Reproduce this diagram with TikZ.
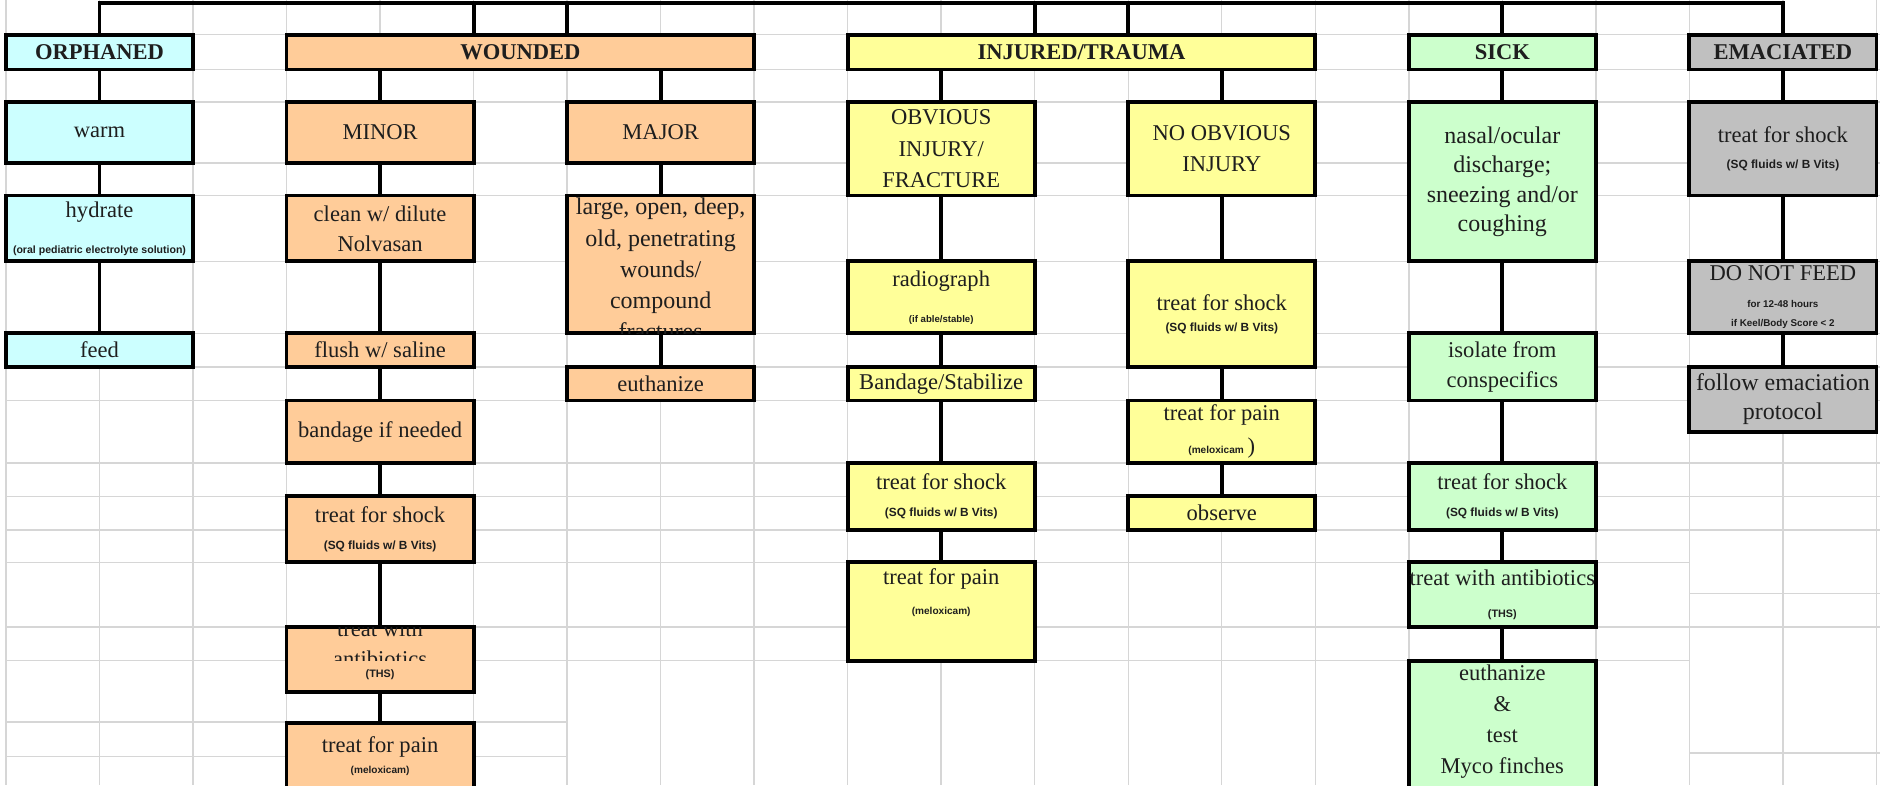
\documentclass[tikz,border=0pt]{standalone}
\usepackage{fontspec}
\setmainfont{Liberation Serif}
\newfontfamily\subfont{Liberation Sans}
\definecolor{cyanF}{HTML}{CCFFFF}
\definecolor{peachF}{HTML}{FFCC99}
\definecolor{yellowF}{HTML}{FFFF99}
\definecolor{greenF}{HTML}{CCFFCC}
\definecolor{grayF}{HTML}{C0C0C0}
\definecolor{gridC}{HTML}{D6D6D6}
\definecolor{txt}{HTML}{1E1E1E}
\newcommand\mf{\fontsize{9.4pt}{12.6pt}\selectfont}
\newcommand\bigmf{\fontsize{10pt}{12.3pt}\selectfont}
\newcommand\subt[2][4.5]{{\subfont\bfseries\fontsize{#1pt}{#1pt}\selectfont #2}}
\newcommand\cellbox[7]{\node[#6, minimum width={(#4-#2)*0.5pt}, minimum height={(#5-#3)*0.5pt}] (#1) at ({(#2+#4)/2},{(#3+#5)/2}) {#7};}
\tikzset{
  cell/.style={draw=black, line width=1.6pt, inner sep=0pt, align=center, font=\mf, text=txt},
  hdr/.style={cell, font={\mf\bfseries}},
  cy/.style={fill=cyanF}, pe/.style={fill=peachF}, ye/.style={fill=yellowF},
  gr/.style={fill=greenF}, gy/.style={fill=grayF},
  conn/.style={line width=1.6pt, draw=black},
  gridline/.style={draw=gridC, line width=0.6pt},
  txtnode/.style={inner sep=0pt, align=center, font=\mf, text=txt}
}
\begin{document}
\begin{tikzpicture}[x=0.5pt,y=-0.5pt]
\useasboundingbox (0,0) rectangle (1568,655);
\clip (0,0) rectangle (1568,655);
\fill[white] (0,0) rectangle (1568,655);
% spreadsheet grid
\foreach \k in {0,...,20} \draw[gridline] ({5+78*\k},0) -- ({5+78*\k},655);
\foreach \yy in {29,58,85,136,163,218,278,306,334,386,414,442,523} \draw[gridline] (5,\yy) -- (1568,\yy);
\foreach \yy in {469,551} \draw[gridline] (5,\yy) -- (1409,\yy);
\foreach \yy in {495,628} \draw[gridline] (1409,\yy) -- (1568,\yy);
\foreach \yy in {602,631} \draw[gridline] (5,\yy) -- (473,\yy);

% headers
\cellbox{orph}{5}{29}{161}{58}{hdr,cy}{ORPHANED}
\cellbox{wounded}{239}{29}{629}{58}{hdr,pe}{WOUNDED}
\cellbox{injured}{707}{29}{1097}{58}{hdr,ye}{INJURED/TRAUMA}
\cellbox{sick}{1175}{29}{1331}{58}{hdr,gr}{SICK}
\cellbox{emac}{1409}{29}{1565}{58}{hdr,gy}{EMACIATED}

% orphaned
\cellbox{warm}{5}{85}{161}{136}{cell,cy}{warm}
\cellbox{hydrate}{5}{163}{161}{218}{cell,cy}{hydrate\\[2.5pt]\subt[4.4]{(oral pediatric electrolyte solution)}}
\cellbox{feed}{5}{278}{161}{306}{cell,cy}{feed}

% wounded - minor
\cellbox{minor}{239}{85}{395}{136}{cell,pe}{MINOR}
\cellbox{clean}{239}{163}{395}{218}{cell,pe}{clean w/ dilute\\Nolvasan}
\cellbox{flush}{239}{278}{395}{306}{cell,pe}{flush w/ saline}
\cellbox{bandage}{239}{334}{395}{386}{cell,pe}{bandage if needed}
\cellbox{wshock}{239}{414}{395}{469}{cell,pe}{treat for shock\\[-1.5pt]\subt[4.95]{(SQ fluids w/ B Vits)}}
\cellbox{wanti}{239}{523}{395}{577}{cell,pe}{}
\cellbox{wpain}{239}{603}{395}{690}{cell,pe}{}
% wounded - major
\cellbox{major}{473}{85}{629}{136}{cell,pe}{MAJOR}
\cellbox{large}{473}{163}{629}{278}{cell,pe}{}
\cellbox{weuth}{473}{306}{629}{334}{cell,pe}{euthanize}

% injured
\cellbox{obv}{707}{85}{863}{163}{cell,ye}{OBVIOUS\\[0.6pt]INJURY/\\[0.6pt]FRACTURE}
\cellbox{radio}{707}{218}{863}{278}{cell,ye}{radiograph\\[2.5pt]\subt[4]{(if able/stable)}}
\cellbox{bandstab}{707}{306}{863}{334}{cell,ye}{Bandage/Stabilize}
\cellbox{ishock}{707}{386}{863}{442}{cell,ye}{treat for shock\\[-1.5pt]\subt[4.95]{(SQ fluids w/ B Vits)}}
\cellbox{ipain}{707}{469}{863}{551}{cell,ye}{}
\cellbox{noobv}{941}{85}{1097}{163}{cell,ye}{NO OBVIOUS\\INJURY}
\cellbox{nshock}{941}{218}{1097}{306}{cell,ye}{treat for shock\\[-3.6pt]\subt[4.95]{(SQ fluids w/ B Vits)}}
\cellbox{npain}{941}{334}{1097}{386}{cell,ye}{treat for pain\\[1pt]\subt[4.2]{(meloxicam}\,)}
\cellbox{observe}{941}{414}{1097}{442}{cell,ye}{observe}

% sick
\cellbox{nasal}{1175}{85}{1331}{218}{cell,gr,font=\bigmf}{nasal/ocular\\discharge;\\sneezing and/or\\coughing}
\cellbox{isolate}{1175}{278}{1331}{334}{cell,gr}{isolate from\\conspecifics}
\cellbox{sshock}{1175}{386}{1331}{442}{cell,gr}{treat for shock\\[-1.5pt]\subt[4.95]{(SQ fluids w/ B Vits)}}
\cellbox{santi}{1175}{469}{1331}{523}{cell,gr}{treat with antibiotics\\[0.5pt]\subt[4.5]{(THS)}}
\cellbox{seuth}{1175}{551}{1331}{700}{cell,gr}{}

% emaciated
\cellbox{eshock}{1409}{85}{1565}{163}{cell,gy}{treat for shock\\[-1.5pt]\subt[4.95]{(SQ fluids w/ B Vits)}}
\cellbox{dnf}{1409}{218}{1565}{278}{cell,gy}{DO NOT FEED\\[-1.5pt]\subt[4.1]{for 12-48 hours}\\[-4.6pt]\subt[4.1]{if Keel/Body Score < 2}}
\cellbox{follow}{1409}{306}{1565}{360}{cell,gy,font=\bigmf}{follow emaciation\\protocol}

% texts that run past their cells
\begin{scope}
  \clip (473,163) rectangle (629,278);
  \node[txtnode, anchor=north, font=\fontsize{10pt}{13pt}\selectfont] (large-t) at (551,165)
    {large, open, deep,\\old, penetrating\\wounds/\\compound\\fractures};
\end{scope}
\begin{scope}
  \clip (239,523) rectangle (395,551);
  \node[txtnode, anchor=base] (wanti-t1) at (317,531) {treat with};
  \node[txtnode, anchor=base] (wanti-t2) at (317,556) {antibiotics};
\end{scope}
\node[txtnode] (wanti-s) at (317,563) {\subt[4.5]{(THS)}};
\node[txtnode] (wpain-t) at (317,623) {treat for pain};
\node[txtnode] (wpain-s) at (317,643) {\subt[4.2]{(meloxicam)}};
\node[txtnode] (ipain-t) at (785,483) {treat for pain};
\node[txtnode] (ipain-s) at (785,510) {\subt[4.2]{(meloxicam)}};
\node[txtnode, font=\fontsize{9.4pt}{13pt}\selectfont] (seuth-t) at (1253,602) {euthanize\\\&\\test\\Myco finches};

% bus line and drops
\coordinate (bus) at (0,2.5);
\coordinate (tw1) at (395,2.5);
\coordinate (tw2) at (473,2.5);
\coordinate (ti1) at (863,2.5);
\coordinate (ti2) at (941,2.5);
\draw[conn] (orph.north) -- (orph.north |- bus) -- (emac.north |- bus) -- (emac.north);
\draw[conn] (tw1) -- (tw1 |- wounded.north);
\draw[conn] (tw2) -- (tw2 |- wounded.north);
\draw[conn] (ti1) -- (ti1 |- injured.north);
\draw[conn] (ti2) -- (ti2 |- injured.north);
\draw[conn] (sick.north |- bus) -- (sick.north);

% connectors
\draw[conn] (orph.south) -- (warm.north);
\draw[conn] (warm.south) -- (hydrate.north);
\draw[conn] (hydrate.south) -- (feed.north);
\draw[conn] (wounded.south -| minor.north) -- (minor.north);
\draw[conn] (wounded.south -| major.north) -- (major.north);
\draw[conn] (minor.south) -- (clean.north);
\draw[conn] (clean.south) -- (flush.north);
\draw[conn] (flush.south) -- (bandage.north);
\draw[conn] (bandage.south) -- (wshock.north);
\draw[conn] (wshock.south) -- (wanti.north);
\draw[conn] (wanti.south) -- (wpain.north);
\draw[conn] (major.south) -- (large.north);
\draw[conn] (large.south) -- (weuth.north);
\draw[conn] (injured.south -| obv.north) -- (obv.north);
\draw[conn] (injured.south -| noobv.north) -- (noobv.north);
\draw[conn] (obv.south) -- (radio.north);
\draw[conn] (radio.south) -- (bandstab.north);
\draw[conn] (bandstab.south) -- (ishock.north);
\draw[conn] (ishock.south) -- (ipain.north);
\draw[conn] (noobv.south) -- (nshock.north);
\draw[conn] (nshock.south) -- (npain.north);
\draw[conn] (npain.south) -- (observe.north);
\draw[conn] (sick.south) -- (nasal.north);
\draw[conn] (nasal.south) -- (isolate.north);
\draw[conn] (isolate.south) -- (sshock.north);
\draw[conn] (sshock.south) -- (santi.north);
\draw[conn] (santi.south) -- (seuth.north);
\draw[conn] (emac.south) -- (eshock.north);
\draw[conn] (eshock.south) -- (dnf.north);
\draw[conn] (dnf.south) -- (follow.north);
\end{tikzpicture}
\end{document}
